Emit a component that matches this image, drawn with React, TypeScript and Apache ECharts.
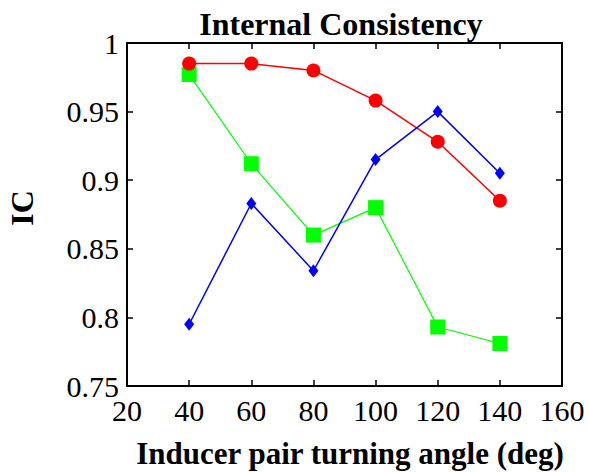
import React, { useEffect, useRef } from "react";
import * as echarts from "echarts";

const angles = [40, 60, 80, 100, 120, 140];
const redValues = [0.985, 0.985, 0.98, 0.958, 0.928, 0.885];
const greenValues = [0.977, 0.912, 0.86, 0.88, 0.793, 0.781];
const blueValues = [0.795, 0.883, 0.834, 0.915, 0.95, 0.905];
const xTicks = [20, 40, 60, 80, 100, 120, 140, 160];
const yTicks = [0.75, 0.8, 0.85, 0.9, 0.95, 1];

const FONT = "Liberation Serif";

function pairs(vals: number[]) {
  return angles.map((a, i) => [a, vals[i]]);
}

export default function App() {
  const ref = useRef<HTMLDivElement>(null);
  useEffect(() => {
    if (!ref.current) return;
    const chart = echarts.init(ref.current, null, { renderer: "svg" });
    const axisLine = { show: true, lineStyle: { color: "#000", width: 2 } };
    const tick = { show: true, inside: true, length: 6, lineStyle: { color: "#000", width: 1.5 } };
    chart.setOption({
      animation: false,
      backgroundColor: "#fff",
      textStyle: { fontFamily: FONT },
      grid: { left: 127, right: 27, top: 43, bottom: 86 },
      xAxis: [
        {
          type: "value",
          min: 20,
          max: 160,
          interval: 20,
          axisLine,
          axisTick: tick,
          splitLine: { show: false },
          axisLabel: {
            fontFamily: FONT,
            fontSize: 30,
            color: "#000",
            margin: 9,
            formatter: (v: number) => (xTicks.includes(v) ? String(v) : ""),
          },
        },
        {
          type: "value",
          position: "top",
          min: 20,
          max: 160,
          interval: 20,
          axisLine,
          axisTick: tick,
          splitLine: { show: false },
          axisLabel: { show: false },
        },
      ],
      yAxis: [
        {
          type: "value",
          min: 0.75,
          max: 1,
          interval: 0.05,
          axisLine,
          axisTick: tick,
          splitLine: { show: false },
          axisLabel: {
            fontFamily: FONT,
            fontSize: 30,
            color: "#000",
            margin: 8,
            formatter: (v: number) => {
              const t = yTicks.find((y) => Math.abs(y - v) < 1e-6);
              return t === undefined ? "" : String(t);
            },
          },
        },
        {
          type: "value",
          position: "right",
          min: 0.75,
          max: 1,
          interval: 0.05,
          axisLine,
          axisTick: tick,
          splitLine: { show: false },
          axisLabel: { show: false },
        },
      ],
      graphic: [
        {
          type: "text",
          x: 341,
          y: 24,
          style: {
            text: "Internal Consistency",
            fontFamily: FONT,
            fontWeight: "bold",
            fontSize: 32,
            fill: "#000",
            align: "center",
            verticalAlign: "middle",
          },
        },
        {
          type: "text",
          x: 350,
          y: 453,
          style: {
            text: "Inducer pair turning angle (deg)",
            fontFamily: FONT,
            fontWeight: "bold",
            fontSize: 31,
            fill: "#000",
            align: "center",
            verticalAlign: "middle",
          },
        },
        {
          type: "text",
          x: 22,
          y: 208,
          rotation: Math.PI / 2,
          style: {
            text: "IC",
            fontFamily: FONT,
            fontWeight: "bold",
            fontSize: 32,
            fill: "#000",
            align: "center",
            verticalAlign: "middle",
          },
        },
      ],
      series: [
        {
          type: "line",
          data: pairs(redValues),
          symbol: "circle",
          symbolSize: 14,
          lineStyle: { color: "#ff0000", width: 1.5 },
          itemStyle: { color: "#ff0000" },
          z: 3,
        },
        {
          type: "line",
          data: pairs(greenValues),
          symbol: "rect",
          symbolSize: 15,
          lineStyle: { color: "#00ff00", width: 1.2 },
          itemStyle: { color: "#00ff00" },
          z: 2,
        },
        {
          type: "line",
          data: pairs(blueValues),
          symbol: "diamond",
          symbolSize: [10, 13],
          lineStyle: { color: "#0000ff", width: 1.5 },
          itemStyle: { color: "#0000ff" },
          z: 4,
        },
      ],
    });
    return () => chart.dispose();
  }, []);
  return (
    <div
      ref={ref}
      style={{ position: "absolute", left: 0, top: 0, width: 589, height: 472 }}
    />
  );
}
